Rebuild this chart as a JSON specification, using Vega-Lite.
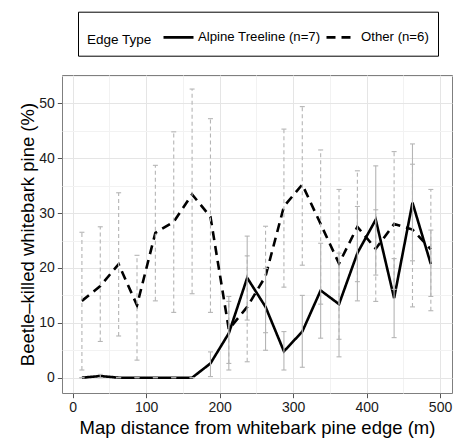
{
  "$schema": "https://vega.github.io/schema/vega-lite/v6.json",
  "width": 390,
  "height": 318,
  "autosize": {"type": "none"},
  "padding": {"left": 62, "top": 75, "right": 6, "bottom": 46},
  "background": "white",
  "config": {
    "font": "Liberation Sans",
    "view": {"stroke": "#7f7f7f", "strokeWidth": 1},
    "axis": {"domain": false, "labelColor": "#1a1a1a", "titleColor": "#000000", "tickColor": "#555555", "labelFontSize": 14, "titleFontSize": 18.5, "titleFontWeight": "normal", "tickSize": 4.7, "labelPadding": 3}
  },
  "data": {"values": [
    {"d": 12.5, "type": "Alpine Treeline (n=7)", "mean": 0, "lo": 0, "hi": 0},
    {"d": 37.5, "type": "Alpine Treeline (n=7)", "mean": 0.3, "lo": 0, "hi": 0.6},
    {"d": 62.5, "type": "Alpine Treeline (n=7)", "mean": 0, "lo": 0, "hi": 0},
    {"d": 87.5, "type": "Alpine Treeline (n=7)", "mean": 0, "lo": 0, "hi": 0},
    {"d": 112.5, "type": "Alpine Treeline (n=7)", "mean": 0, "lo": 0, "hi": 0},
    {"d": 137.5, "type": "Alpine Treeline (n=7)", "mean": 0, "lo": 0, "hi": 0},
    {"d": 162.5, "type": "Alpine Treeline (n=7)", "mean": 0, "lo": 0, "hi": 0},
    {"d": 187.5, "type": "Alpine Treeline (n=7)", "mean": 2.6, "lo": 0.2, "hi": 4.7},
    {"d": 212.5, "type": "Alpine Treeline (n=7)", "mean": 8.1, "lo": 1.4, "hi": 14.8},
    {"d": 237.5, "type": "Alpine Treeline (n=7)", "mean": 18.2, "lo": 10.5, "hi": 25.8},
    {"d": 262.5, "type": "Alpine Treeline (n=7)", "mean": 12.9, "lo": 5.0, "hi": 19.9},
    {"d": 287.5, "type": "Alpine Treeline (n=7)", "mean": 4.8, "lo": 1.4, "hi": 8.4},
    {"d": 312.5, "type": "Alpine Treeline (n=7)", "mean": 8.4, "lo": 1.9, "hi": 15.0},
    {"d": 337.5, "type": "Alpine Treeline (n=7)", "mean": 15.9, "lo": 7.2, "hi": 24.5},
    {"d": 362.5, "type": "Alpine Treeline (n=7)", "mean": 13.4, "lo": 3.8, "hi": 22.7},
    {"d": 387.5, "type": "Alpine Treeline (n=7)", "mean": 22.7, "lo": 14.0, "hi": 31.2},
    {"d": 412.5, "type": "Alpine Treeline (n=7)", "mean": 28.8, "lo": 18.7, "hi": 38.6},
    {"d": 437.5, "type": "Alpine Treeline (n=7)", "mean": 14.5, "lo": 7.3, "hi": 21.7},
    {"d": 462.5, "type": "Alpine Treeline (n=7)", "mean": 31.9, "lo": 21.3, "hi": 42.6},
    {"d": 487.5, "type": "Alpine Treeline (n=7)", "mean": 20.7, "lo": 14.8, "hi": 26.9},
    {"d": 12.5, "type": "Other (n=6)", "mean": 14.0, "lo": 1.4, "hi": 26.5},
    {"d": 37.5, "type": "Other (n=6)", "mean": 16.7, "lo": 6.6, "hi": 27.5},
    {"d": 62.5, "type": "Other (n=6)", "mean": 20.7, "lo": 7.6, "hi": 33.7},
    {"d": 87.5, "type": "Other (n=6)", "mean": 13.2, "lo": 3.2, "hi": 22.3},
    {"d": 112.5, "type": "Other (n=6)", "mean": 26.4, "lo": 14.0, "hi": 38.7},
    {"d": 137.5, "type": "Other (n=6)", "mean": 28.4, "lo": 11.9, "hi": 44.8},
    {"d": 162.5, "type": "Other (n=6)", "mean": 33.4, "lo": 15.3, "hi": 52.6},
    {"d": 187.5, "type": "Other (n=6)", "mean": 29.3, "lo": 11.9, "hi": 47.2},
    {"d": 212.5, "type": "Other (n=6)", "mean": 8.8, "lo": 2.6, "hi": 13.9},
    {"d": 237.5, "type": "Other (n=6)", "mean": 12.9, "lo": 2.9, "hi": 22.2},
    {"d": 262.5, "type": "Other (n=6)", "mean": 18.5, "lo": 8.2, "hi": 27.6},
    {"d": 287.5, "type": "Other (n=6)", "mean": 31.2, "lo": 16.5, "hi": 45.3},
    {"d": 312.5, "type": "Other (n=6)", "mean": 35.2, "lo": 20.5, "hi": 49.4},
    {"d": 337.5, "type": "Other (n=6)", "mean": 28.0, "lo": 13.4, "hi": 41.5},
    {"d": 362.5, "type": "Other (n=6)", "mean": 20.8, "lo": 7.0, "hi": 34.3},
    {"d": 387.5, "type": "Other (n=6)", "mean": 27.5, "lo": 17.5, "hi": 37.7},
    {"d": 412.5, "type": "Other (n=6)", "mean": 23.5, "lo": 13.9, "hi": 30.6},
    {"d": 437.5, "type": "Other (n=6)", "mean": 28.0, "lo": 16.1, "hi": 41.2},
    {"d": 462.5, "type": "Other (n=6)", "mean": 27.0, "lo": 12.9, "hi": 38.9},
    {"d": 487.5, "type": "Other (n=6)", "mean": 23.4, "lo": 12.2, "hi": 34.3}
  ]},
  "encoding": {
    "x": {
      "field": "d", "type": "quantitative",
      "scale": {"domain": [-14.6, 516.3], "nice": false, "zero": false},
      "axis": {
        "title": "Map distance from whitebark pine edge (m)",
        "values": [0, 50, 100, 150, 200, 250, 300, 350, 400, 450, 500],
        "labelExpr": "datum.value % 100 === 0 ? datum.label : ''",
        "tickOpacity": {"condition": {"test": "datum.value % 100 !== 0", "value": 0}, "value": 1},
        "gridColor": {"condition": {"test": "datum.value % 100 !== 0", "value": "#f2f2f2"}, "value": "#e5e5e5"},
        "titlePadding": 4
      }
    },
    "y": {
      "field": "mean", "type": "quantitative",
      "scale": {"domain": [-2.79, 55.16], "nice": false, "zero": false},
      "axis": {
        "title": "Beetle–killed whitebark pine (%)",
        "values": [0, 5, 10, 15, 20, 25, 30, 35, 40, 45, 50, 55],
        "labelExpr": "datum.value % 10 === 0 ? datum.label : ''",
        "tickOpacity": {"condition": {"test": "datum.value % 10 !== 0", "value": 0}, "value": 1},
        "gridColor": {"condition": {"test": "datum.value % 10 !== 0", "value": "#f2f2f2"}, "value": "#e5e5e5"},
        "titlePadding": 1
      }
    }
  },
  "layer": [
    {
      "mark": {"type": "line", "color": "black", "strokeWidth": 2.6},
      "encoding": {
        "strokeDash": {
          "field": "type", "type": "nominal",
          "scale": {"domain": ["Alpine Treeline (n=7)", "Other (n=6)"], "range": [[1, 0], [9, 6]]},
          "legend": {
            "title": "Edge Type",
            "orient": "none",
            "legendX": 16,
            "legendY": -63.3,
            "direction": "horizontal",
            "titleOrient": "left",
            "titleFontSize": 13.5,
            "titleFontWeight": "normal",
            "titleColor": "black",
            "titleBaseline": "middle",
            "titlePadding": 10,
            "strokeColor": "black",
            "fillColor": "white",
            "padding": 9,
            "symbolType": "stroke",
            "symbolSize": 900,
            "symbolStrokeWidth": 2.6,
            "symbolStrokeColor": "black",
            "labelFontSize": 13.2,
            "labelColor": "black",
            "labelOffset": 3,
            "columnPadding": 0,
            "encode": {"title": {"update": {"dy": {"value": 8}}}}
          }
        }
      }
    },
    {
      "mark": {"type": "rule", "color": "#b5b5b5", "strokeWidth": 1.1},
      "encoding": {
        "y": {"field": "lo", "type": "quantitative"},
        "y2": {"field": "hi"},
        "strokeDash": {
          "field": "type", "type": "nominal",
          "scale": {"domain": ["Alpine Treeline (n=7)", "Other (n=6)"], "range": [[1, 0], [4, 3]]},
          "legend": null
        }
      }
    },
    {
      "mark": {"type": "tick", "orient": "horizontal", "color": "#b5b5b5", "size": 5, "thickness": 1.1, "opacity": 1},
      "encoding": {"y": {"field": "lo", "type": "quantitative"}}
    },
    {
      "mark": {"type": "tick", "orient": "horizontal", "color": "#b5b5b5", "size": 5, "thickness": 1.1, "opacity": 1},
      "encoding": {"y": {"field": "hi", "type": "quantitative"}}
    }
  ],
  "resolve": {"scale": {"strokeDash": "independent"}}
}
